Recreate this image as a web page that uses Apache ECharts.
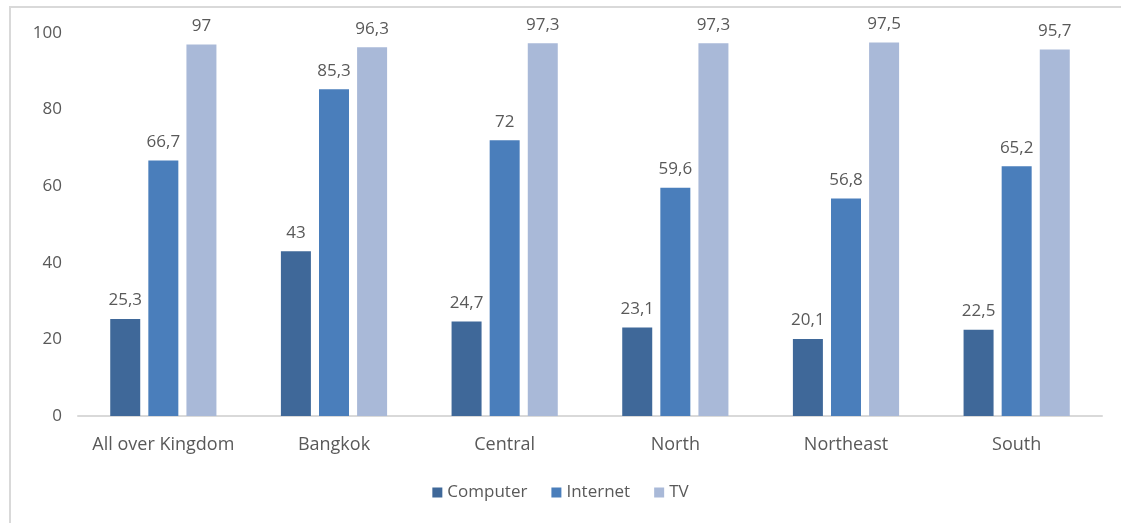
<!DOCTYPE html>
<html>
<head>
<meta charset="utf-8">
<script src="https://cdn.jsdelivr.net/npm/echarts@6/dist/echarts.min.js"></script>
<style>
  html, body { margin: 0; padding: 0; background: #fff; }
  #frame {
    position: absolute; left: 9px; top: 6px; right: 0; bottom: 0;
    border-left: 2px solid #d9d9d9; border-top: 2px solid #d9d9d9;
  }
  #main { position: absolute; left: 0; top: 0; width: 1121px; height: 523px; }
</style>
</head>
<body>
<div id="frame"></div>
<div id="main"></div>
<script>
// Regions on the x axis
const categories = ["All over Kingdom", "Bangkok", "Central", "North", "Northeast", "South"];

// Share of households (%) per device
const computer = [25.3, 43, 24.7, 23.1, 20.1, 22.5];
const internet = [66.7, 85.3, 72, 59.6, 56.8, 65.2];
const tv = [97, 96.3, 97.3, 97.3, 97.5, 95.7];

const textColor = "#595959";
const font = "'Open Sans', sans-serif";

// Excel style decimal comma
const commaLabel = (p) => String(p.value).replace(".", ",");

const chart = echarts.init(document.getElementById("main"));

const makeSeries = (name, color, data) => ({
    name: name,
    type: "bar",
    barWidth: 30,
    barGap: "27%",
    itemStyle: { color: color },
    label: {
        show: true,
        position: "top",
        distance: 10,
        color: textColor,
        fontSize: 17,
        fontFamily: font,
        formatter: commaLabel,
    },
    data: data,
});

chart.setOption({
    backgroundColor: "transparent",
    animation: false,
    grid: { left: 78, right: 19, top: 33, bottom: 107 },
    legend: {
        bottom: 17,
        left: "center",
        itemWidth: 10,
        itemHeight: 10,
        itemGap: 24,
        icon: "rect",
        textStyle: { color: textColor, fontSize: 17, fontFamily: font },
        data: ["Computer", "Internet", "TV"],
    },
    xAxis: {
        type: "category",
        data: categories,
        axisLine: { lineStyle: { color: "#d9d9d9", width: 2 } },
        axisTick: { show: false },
        axisLabel: { interval: 0, color: textColor, fontSize: 18, fontFamily: font, margin: 20 },
    },
    yAxis: {
        type: "value",
        min: 0,
        max: 100,
        interval: 20,
        axisLine: { show: false },
        axisTick: { show: false },
        splitLine: { show: false },
        axisLabel: { color: textColor, fontSize: 17, fontFamily: font, margin: 16 },
    },
    series: [
        makeSeries("Computer", "#3f6899", computer),
        makeSeries("Internet", "#4a7ebb", internet),
        makeSeries("TV", "#a9b9d8", tv),
    ],
});
</script>
</body>
</html>
